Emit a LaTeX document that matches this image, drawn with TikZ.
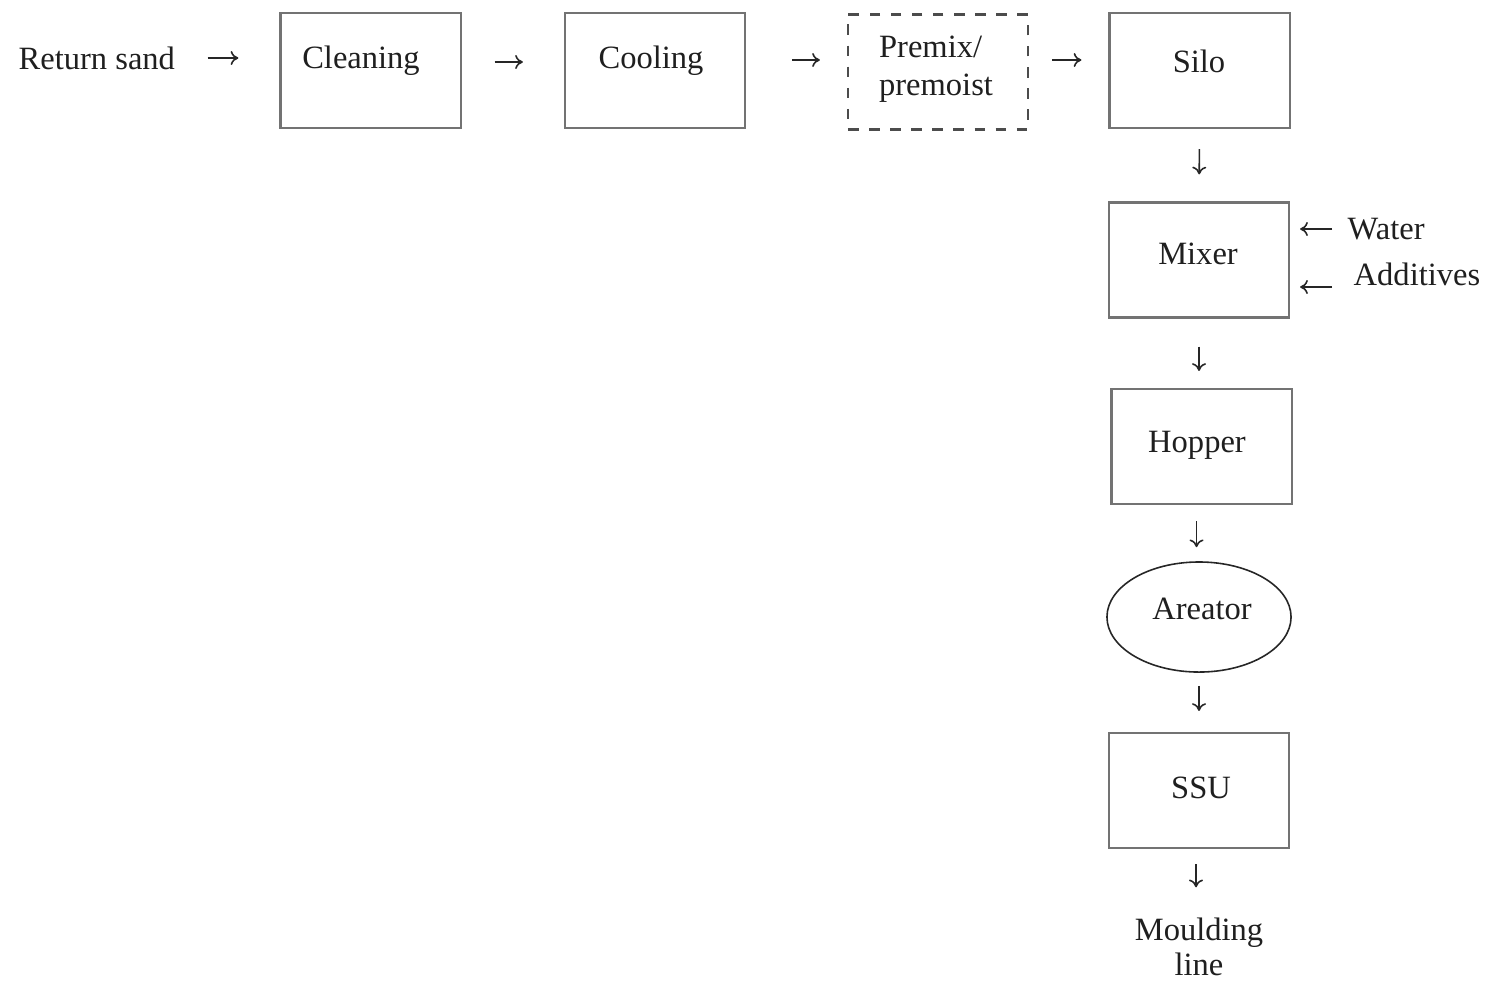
\documentclass[tikz,border=0pt]{standalone}
\usepackage{fontspec}
\setmainfont{Liberation Serif}
\usetikzlibrary{shapes.geometric,arrows.meta}

\tikzset{
  box/.style={draw=black!55, line width=0.6pt, minimum width=1.8cm, minimum height=1.15cm, inner sep=0pt},
  dbox/.style={box, draw=black!70, dashed},
  oval/.style={ellipse, draw=black!85, line width=0.45pt, minimum width=1.84cm, minimum height=1.1cm, inner sep=0pt},
  txt/.style={inner sep=0pt, text=black!88, font=\fontsize{9.25pt}{10pt}\selectfont},
  flow/.style={black!85, line width=0.45pt, -{To[length=2.2pt,width=4pt]}}
}

\begin{document}
\begin{tikzpicture}[x=0.01cm, y=-0.01cm]
  \useasboundingbox[fill=white] (0,0) rectangle (1486,984);
  % top row
  \node[txt, anchor=west] (ret) at (18,58) {Return sand};
  \node[box] (clean) at (370.5,70.5) {};
  \node[txt] at (361,61) {Cleaning};
  \node[box] (cool) at (655,70.5) {};
  \node[txt] at (651,61) {Cooling};
  \node[dbox] (premix) at (938,72) {};
  \node[txt, align=left, font=\fontsize{9.25pt}{10.9pt}\selectfont] at (936,69) {Premix/\\premoist};
  \node[box] (silo) at (1199.5,70.5) {};
  \node[txt] at (1199,61) {Silo};
  % vertical line
  \node[box] (mixer) at (1199,260) {};
  \node[txt] at (1198,254) {Mixer};
  \node[box] (hopper) at (1201.5,446.5) {};
  \node[txt] at (1197,445) {Hopper};
  \node[oval] (aer) at (1199,617) {};
  \node[txt] at (1202,609) {Areator};
  \node[box] (ssu) at (1199,790.5) {};
  \node[txt] at (1201,788) {SSU};
  \node[txt, align=center, font=\fontsize{9.25pt}{10pt}\selectfont] (mould) at (1199,947) {Moulding\\[0pt]line};
  % inputs to mixer
  \node[txt, anchor=west] (water) at (1347,229) {Water};
  \node[txt, anchor=west] (add) at (1353,274) {Additives};
  \coordinate (addin) at (1332,287);

  \draw[flow, shorten <=0.32cm, shorten >=0.41cm] (ret.east) -- (ret.east -| clean.west);
  \draw[flow, shorten <=0.33cm, shorten >=0.41cm] ([yshift=0.085cm]clean.east) -- ([yshift=0.085cm]cool.west);
  \draw[flow, shorten <=0.46cm, shorten >=0.27cm] ([yshift=0.105cm]cool.east) -- ([yshift=0.12cm]premix.west);
  \draw[flow, shorten <=0.23cm, shorten >=0.27cm] ([yshift=0.12cm]premix.east) -- ([yshift=0.105cm]silo.west);
  \draw[flow, shorten <=0.2cm, shorten >=0.27cm] (silo.south) -- (mixer.north);
  \draw[flow, shorten <=0.28cm, shorten >=0.17cm] (mixer.south) -- (mixer.south |- hopper.north);
  \draw[flow, shorten <=0.16cm, shorten >=0.14cm] ([xshift=-0.05cm]hopper.south) -- ([xshift=-0.05cm]hopper.south |- aer.north);
  \draw[flow, shorten <=0.13cm, shorten >=0.21cm] (aer.south) -- (ssu.north);
  \draw[flow, shorten <=0.15cm, shorten >=0.3cm] ([xshift=-0.03cm]ssu.south) -- ([xshift=-0.03cm]ssu.south |- mould.north);
  \draw[flow, shorten <=0.15cm, shorten >=0.1cm] (water.west) -- (water.west -| mixer.east);
  \draw[flow, shorten >=0.1cm] (addin) -- (addin -| mixer.east);
\end{tikzpicture}
\end{document}
